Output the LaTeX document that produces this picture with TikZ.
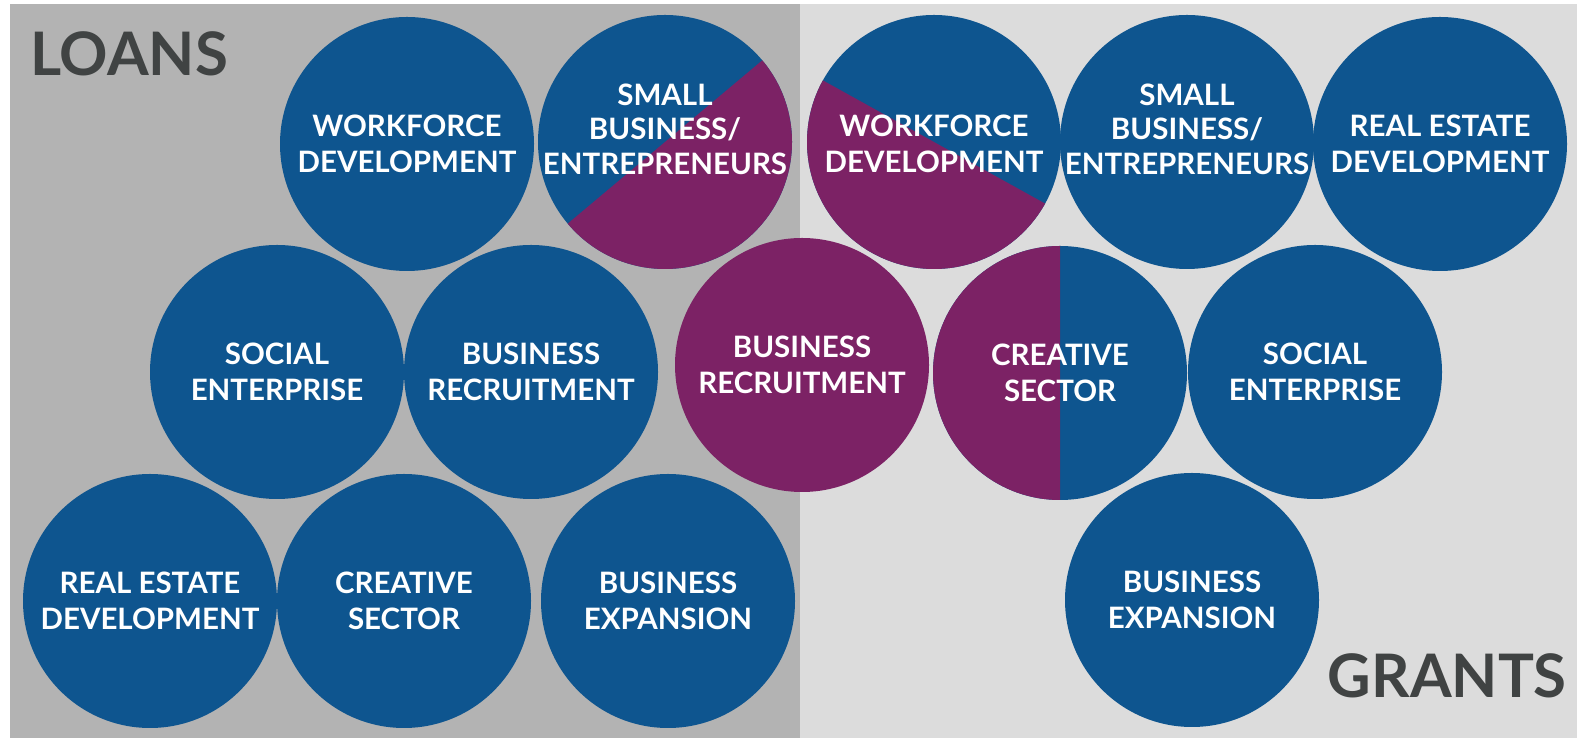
\documentclass[tikz,border=0pt]{standalone}
\usepackage{fontspec}
\setmainfont{Lato}
\usetikzlibrary{calc}
\definecolor{cblue}{HTML}{0E558F}
\definecolor{cpurple}{HTML}{7C2265}
\definecolor{loanbg}{HTML}{B3B3B3}
\definecolor{grantbg}{HTML}{DCDCDC}
\definecolor{headtxt}{HTML}{404343}
\tikzset{
  disc/.style={circle, fill=cblue, minimum size=254pt, inner sep=0pt, align=center,
    text=white, font=\fontsize{29.5}{36}\selectfont\bfseries},
  purpledisc/.style={disc, fill=cpurple},
  threeline/.style={inner sep=0pt, align=center, text=white,
    font=\fontsize{29.5}{34.5}\selectfont\bfseries},
  halfpurple/.style={path picture={
    \fill[cpurple] ($(path picture bounding box.center)+(#1:135pt)$)
      arc[start angle=#1, end angle=#1+180, radius=135pt] -- cycle;}},
  heading/.style={inner sep=0pt, text=headtxt, font=\fontsize{60}{70}\selectfont\bfseries}
}
\begin{document}
\begin{tikzpicture}[x=1pt,y=1pt]
\useasboundingbox (0,0) rectangle (1577,738);
\fill[white] (0,0) rectangle (1577,738);
\fill[loanbg] (10,0) rectangle (800,734);
\fill[grantbg] (800,0) rectangle (1577,734);

\node[heading, anchor=base west] (loans) at (30,662) {LOANS};
\node[heading, anchor=base east] (grants) at (1567,40) {GRANTS};

% row 1
\node[disc] (wf1) at (407,594) {WORKFORCE\\DEVELOPMENT};
\node[disc, halfpurple=-140] (sb1) at (665,596) {};
\node[threeline] (sb1t) at ([yshift=13pt]sb1.center) {SMALL\\BUSINESS/\\ENTREPRENEURS};
\node[disc, halfpurple=151] (wf2) at (934,596) {};
\node[disc, fill=none] (wf2t) at (934,594) {WORKFORCE\\DEVELOPMENT};
\node[disc] (sb2) at (1187,596) {};
\node[threeline] (sb2t) at ([yshift=13pt]sb2.center) {SMALL\\BUSINESS/\\ENTREPRENEURS};
\node[disc] (re2) at (1440,594) {REAL ESTATE\\DEVELOPMENT};
% row 2
\node[disc] (se1) at (277,366) {SOCIAL\\ENTERPRISE};
\node[disc] (br1) at (531,366) {BUSINESS\\RECRUITMENT};
\node[purpledisc] (br2) at (802,373) {BUSINESS\\RECRUITMENT};
\node[disc, halfpurple=90] (cs2) at (1060,365) {CREATIVE\\SECTOR};
\node[disc] (se2) at (1315,366) {SOCIAL\\ENTERPRISE};
% row 3
\node[disc] (re1) at (150,137) {REAL ESTATE\\DEVELOPMENT};
\node[disc] (cs1) at (404,137) {CREATIVE\\SECTOR};
\node[disc] (be1) at (668,137) {BUSINESS\\EXPANSION};
\node[disc] (be2) at (1192,138) {BUSINESS\\EXPANSION};
\end{tikzpicture}
\end{document}
